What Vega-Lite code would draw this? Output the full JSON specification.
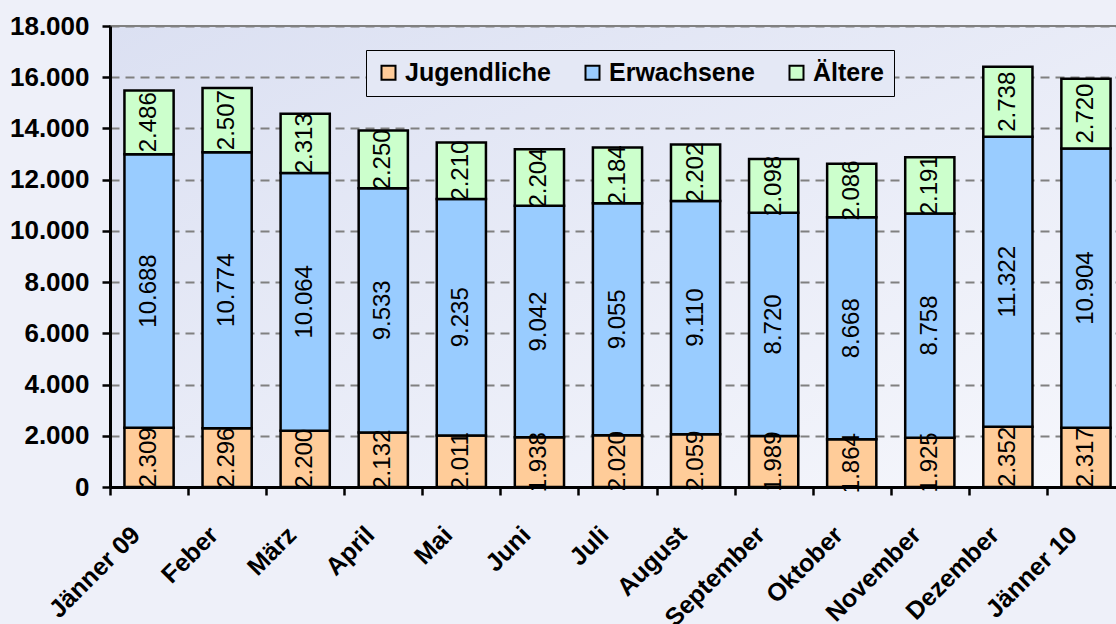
{
  "$schema": "https://vega.github.io/schema/vega-lite/v6.json",
  "width": 1015,
  "height": 461,
  "autosize": "none",
  "padding": {"left": 110, "top": 26, "right": 0, "bottom": 137},
  "background": "#eef0f9",
  "config": {
    "locale": {"number": {"decimal": ",", "thousands": ".", "grouping": [3], "currency": ["", " €"]}},
    "view": {
      "stroke": "#808080", "strokeWidth": 2,
      "fill": {"gradient": "linear", "x1": 0, "y1": 0, "x2": 1, "y2": 1, "stops": [{"offset": 0, "color": "#dbe0f2"}, {"offset": 1, "color": "#f6f7fc"}]}
    },
    "font": "Liberation Sans"
  },
  "data": {"values": [
    {"Monat": "Jänner 09", "Gruppe": "Jugendliche", "Wert": 2309},
    {"Monat": "Jänner 09", "Gruppe": "Erwachsene", "Wert": 10688},
    {"Monat": "Jänner 09", "Gruppe": "Ältere", "Wert": 2486},
    {"Monat": "Feber", "Gruppe": "Jugendliche", "Wert": 2296},
    {"Monat": "Feber", "Gruppe": "Erwachsene", "Wert": 10774},
    {"Monat": "Feber", "Gruppe": "Ältere", "Wert": 2507},
    {"Monat": "März", "Gruppe": "Jugendliche", "Wert": 2200},
    {"Monat": "März", "Gruppe": "Erwachsene", "Wert": 10064},
    {"Monat": "März", "Gruppe": "Ältere", "Wert": 2313},
    {"Monat": "April", "Gruppe": "Jugendliche", "Wert": 2132},
    {"Monat": "April", "Gruppe": "Erwachsene", "Wert": 9533},
    {"Monat": "April", "Gruppe": "Ältere", "Wert": 2250},
    {"Monat": "Mai", "Gruppe": "Jugendliche", "Wert": 2011},
    {"Monat": "Mai", "Gruppe": "Erwachsene", "Wert": 9235},
    {"Monat": "Mai", "Gruppe": "Ältere", "Wert": 2210},
    {"Monat": "Juni", "Gruppe": "Jugendliche", "Wert": 1938},
    {"Monat": "Juni", "Gruppe": "Erwachsene", "Wert": 9042},
    {"Monat": "Juni", "Gruppe": "Ältere", "Wert": 2204},
    {"Monat": "Juli", "Gruppe": "Jugendliche", "Wert": 2020},
    {"Monat": "Juli", "Gruppe": "Erwachsene", "Wert": 9055},
    {"Monat": "Juli", "Gruppe": "Ältere", "Wert": 2184},
    {"Monat": "August", "Gruppe": "Jugendliche", "Wert": 2059},
    {"Monat": "August", "Gruppe": "Erwachsene", "Wert": 9110},
    {"Monat": "August", "Gruppe": "Ältere", "Wert": 2202},
    {"Monat": "September", "Gruppe": "Jugendliche", "Wert": 1989},
    {"Monat": "September", "Gruppe": "Erwachsene", "Wert": 8720},
    {"Monat": "September", "Gruppe": "Ältere", "Wert": 2098},
    {"Monat": "Oktober", "Gruppe": "Jugendliche", "Wert": 1864},
    {"Monat": "Oktober", "Gruppe": "Erwachsene", "Wert": 8668},
    {"Monat": "Oktober", "Gruppe": "Ältere", "Wert": 2086},
    {"Monat": "November", "Gruppe": "Jugendliche", "Wert": 1925},
    {"Monat": "November", "Gruppe": "Erwachsene", "Wert": 8758},
    {"Monat": "November", "Gruppe": "Ältere", "Wert": 2191},
    {"Monat": "Dezember", "Gruppe": "Jugendliche", "Wert": 2352},
    {"Monat": "Dezember", "Gruppe": "Erwachsene", "Wert": 11322},
    {"Monat": "Dezember", "Gruppe": "Ältere", "Wert": 2738},
    {"Monat": "Jänner 10", "Gruppe": "Jugendliche", "Wert": 2317},
    {"Monat": "Jänner 10", "Gruppe": "Erwachsene", "Wert": 10904},
    {"Monat": "Jänner 10", "Gruppe": "Ältere", "Wert": 2720}
  ]},
  "transform": [
    {"calculate": "indexof(['Jugendliche','Erwachsene','Ältere'], datum.Gruppe)", "as": "ord"},
    {"stack": "Wert", "groupby": ["Monat"], "sort": [{"field": "ord", "order": "ascending"}], "as": ["y0", "y1"]},
    {"calculate": "(datum.y0 + datum.y1) / 2", "as": "ymid"}
  ],
  "encoding": {
    "x": {
      "field": "Monat", "type": "nominal",
      "sort": ["Jänner 09", "Feber", "März", "April", "Mai", "Juni", "Juli", "August", "September", "Oktober", "November", "Dezember", "Jänner 10"],
      "scale": {"paddingInner": 0, "paddingOuter": 0},
      "axis": {
        "title": null, "labelAngle": -45, "labelFont": "Liberation Sans", "labelFontSize": 25, "labelFontWeight": "bold",
        "labelColor": "#000000", "domainColor": "#000000", "domainWidth": 3, "tickColor": "#000000", "tickWidth": 2.5,
        "tickSize": 8, "tickBand": "extent", "labelPadding": 27, "labelOffset": -22, "grid": false
      }
    }
  },
  "layer": [
    {
      "mark": {"type": "bar", "stroke": "#000000", "strokeWidth": 2.5, "width": {"band": 0.63}},
      "encoding": {
        "y": {
          "field": "y0", "type": "quantitative",
          "scale": {"domain": [0, 18000], "nice": false},
          "axis": {
            "title": null, "values": [0, 2000, 4000, 6000, 8000, 10000, 12000, 14000, 16000, 18000], "format": ",d",
            "labelFont": "Liberation Sans", "labelFontSize": 26, "labelFontWeight": "bold", "labelColor": "#000000",
            "domainColor": "#000000", "domainWidth": 3, "tickColor": "#000000", "tickWidth": 2.5, "tickSize": 8,
            "labelPadding": 13, "grid": true, "gridColor": "#808080", "gridWidth": 2, "gridDash": [9, 6]
          }
        },
        "y2": {"field": "y1"},
        "color": {
          "field": "Gruppe", "type": "nominal",
          "scale": {"domain": ["Jugendliche", "Erwachsene", "Ältere"], "range": ["#ffcc99", "#99ccff", "#ccffcc"]},
          "legend": {
            "title": null, "orient": "none", "direction": "horizontal", "legendX": 256, "legendY": 24,
            "fillColor": "#e4e8f5", "strokeColor": "#000000", "padding": 10,
            "symbolType": "square", "symbolSize": 196, "symbolStrokeColor": "#000000", "symbolStrokeWidth": 2,
            "labelFont": "Liberation Sans", "labelFontSize": 25, "labelFontWeight": "bold", "labelColor": "#000000",
            "labelOffset": 4, "columnPadding": 29, "labelLimit": 300
          }
        }
      }
    },
    {
      "mark": {"type": "text", "angle": 270, "align": "center", "baseline": "middle", "font": "Liberation Sans", "fontSize": 24, "color": "#000000"},
      "encoding": {
        "y": {"field": "ymid", "type": "quantitative"},
        "text": {"field": "Wert", "type": "quantitative", "format": ",d"}
      }
    }
  ]
}
